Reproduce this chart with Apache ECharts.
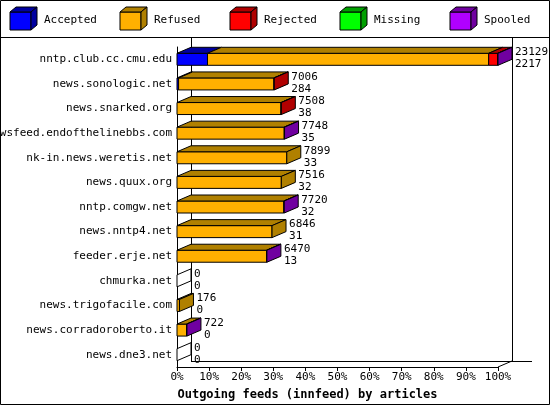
<!DOCTYPE html>
<html><head><meta charset="utf-8">
<script src="https://cdn.jsdelivr.net/npm/echarts@6/dist/echarts.min.js"></script>
<style>html,body{margin:0;padding:0;background:#fff}#c{width:550px;height:405px}</style>
</head><body><div id="c"></div>
<script>
const categories = ["nntp.club.cc.cmu.edu","news.sonologic.net","news.snarked.org","newsfeed.endofthelinebbs.com","nk-in.news.weretis.net","news.quux.org","nntp.comgw.net","news.nntp4.net","feeder.erje.net","chmurka.net","news.trigofacile.com","news.corradoroberto.it","news.dne3.net"];
const seriesNames = ["Accepted","Refused","Rejected","Missing","Spooled"];
// percent of largest feed, per status
const accepted = [9.5,0.5,0,0,0,0,0,0,0,0,0,0,0];
const refused  = [87.6,29.7,32.4,33.4,34.2,32.5,33.3,29.6,27.9,0,0.76,3.0,0];
const rejected = [2.8,0.1,0.1,0,0,0,0,0,0,0,0,0,0];
const missing  = [0,0,0,0,0,0,0,0,0,0,0,0,0];
const spooled  = [0.1,0,0,0.1,0,0,0.1,0,0.1,0,0,0.1,0];
const articles = [23129,7006,7508,7748,7899,7516,7720,6846,6470,0,176,722,0];
const sizes    = [2217,284,38,35,33,32,32,31,13,0,0,0,0];
const xTicks = [0,10,20,30,40,50,60,70,80,90,100];

const front = ['#0000ff','#ffb000','#ff0000','#00ff00','#b000ff'];
const dark  = ['#0000a0','#b08000','#b00000','#00a000','#7000a0'];
const segs = [accepted,refused,rejected,missing,spooled];
const DX=14, DY=6, H=12;
const F = '"DejaVu Sans Mono", monospace';

function renderItem(params, api){
  const i = api.value(0);
  const yc = api.coord([0,i])[1];
  const top = yc - H/2;
  const kids = [];
  let acc = 0, lastK = -1;
  for(let k=0;k<5;k++){
    const v = segs[k][i]; if(!v) continue;
    const x0 = api.coord([acc,i])[0], x1 = api.coord([acc+v,i])[0];
    kids.push({type:'rect',shape:{x:x0,y:top,width:x1-x0,height:H},style:{fill:front[k],stroke:'#000',lineWidth:1}});
    kids.push({type:'polygon',shape:{points:[[x0,top],[x0+DX,top-DY],[x1+DX,top-DY],[x1,top]]},style:{fill:dark[k],stroke:'#000',lineWidth:1}});
    acc += v; lastK = k;
  }
  const xe = api.coord([acc,i])[0];
  kids.push({type:'polygon',shape:{points:[[xe,top],[xe+DX,top-DY],[xe+DX,top+H-DY],[xe,top+H]]},style:{fill:lastK<0?'#fff':dark[lastK],stroke:'#000',lineWidth:1}});
  kids.push({type:'text',style:{x:xe+DX+3,y:top-DY-1,text:articles[i]+'\n'+sizes[i],font:'11px '+F,fill:'#000',lineHeight:12,verticalAlign:'top'}});
  return {type:'group',children:kids};
}

const chart = echarts.init(document.getElementById('c'));
const L=177,R=498,T=47,B=367;
const legend = seriesNames.map((n,k)=>{
  const x=10+k*110;
  return [
    {type:'rect',shape:{x:x,y:12,width:21,height:18},style:{fill:front[k],stroke:'#000'}},
    {type:'polygon',shape:{points:[[x,12],[x+6,7],[x+27,7],[x+21,12]]},style:{fill:dark[k],stroke:'#000'}},
    {type:'polygon',shape:{points:[[x+21,12],[x+27,7],[x+27,25],[x+21,30]]},style:{fill:dark[k],stroke:'#000'}},
    {type:'text',style:{x:x+34,y:20,text:n,font:'11px '+F,fill:'#000',verticalAlign:'middle'}}
  ];
}).flat();
chart.setOption({
  animation:false,
  grid:{left:L,right:550-R,top:T,bottom:405-B,containLabel:false,outerBoundsMode:'none'},
  xAxis:{type:'value',min:0,max:100,interval:10,
    axisLine:{show:true,lineStyle:{color:'#000'}},axisTick:{show:true,length:4,lineStyle:{color:'#000'}},
    splitLine:{show:false},
    axisLabel:{formatter:'{value}%',color:'#000',fontFamily:F,fontSize:11,margin:5},
    name:'Outgoing feeds (innfeed) by articles',nameLocation:'middle',nameGap:22,
    nameTextStyle:{fontFamily:F,fontSize:12,fontWeight:'bold',color:'#000',padding:[0,60,0,0]}},
  yAxis:{type:'category',data:categories,inverse:true,
    axisLine:{show:true,lineStyle:{color:'#000'}},axisTick:{show:false},
    axisLabel:{color:'#000',fontFamily:F,fontSize:11,margin:5}},
  graphic:[
    {type:'rect',shape:{x:0.5,y:0.5,width:549,height:404},style:{fill:null,stroke:'#000'},z:-1},
    {type:'line',shape:{x1:0,y1:37.5,x2:550,y2:37.5},style:{stroke:'#000'}},
    {type:'line',shape:{x1:L+DX+0.5,y1:38,x2:L+DX+0.5,y2:B-DY},style:{stroke:'#000'},z:-1},
    {type:'line',shape:{x1:R+DX+0.5,y1:38,x2:R+DX+0.5,y2:B-DY},style:{stroke:'#000'},z:-1},
    {type:'line',shape:{x1:L+DX,y1:B-DY+0.5,x2:R+DX+20,y2:B-DY+0.5},style:{stroke:'#000'},z:-1},
    {type:'line',shape:{x1:R,y1:B,x2:R+DX,y2:B-DY},style:{stroke:'#000'},z:-1},
    ...legend
  ],
  series:[{type:'custom',renderItem:renderItem,data:categories.map((c,i)=>[i]),encode:{y:0},clip:false}]
});
</script></body></html>
